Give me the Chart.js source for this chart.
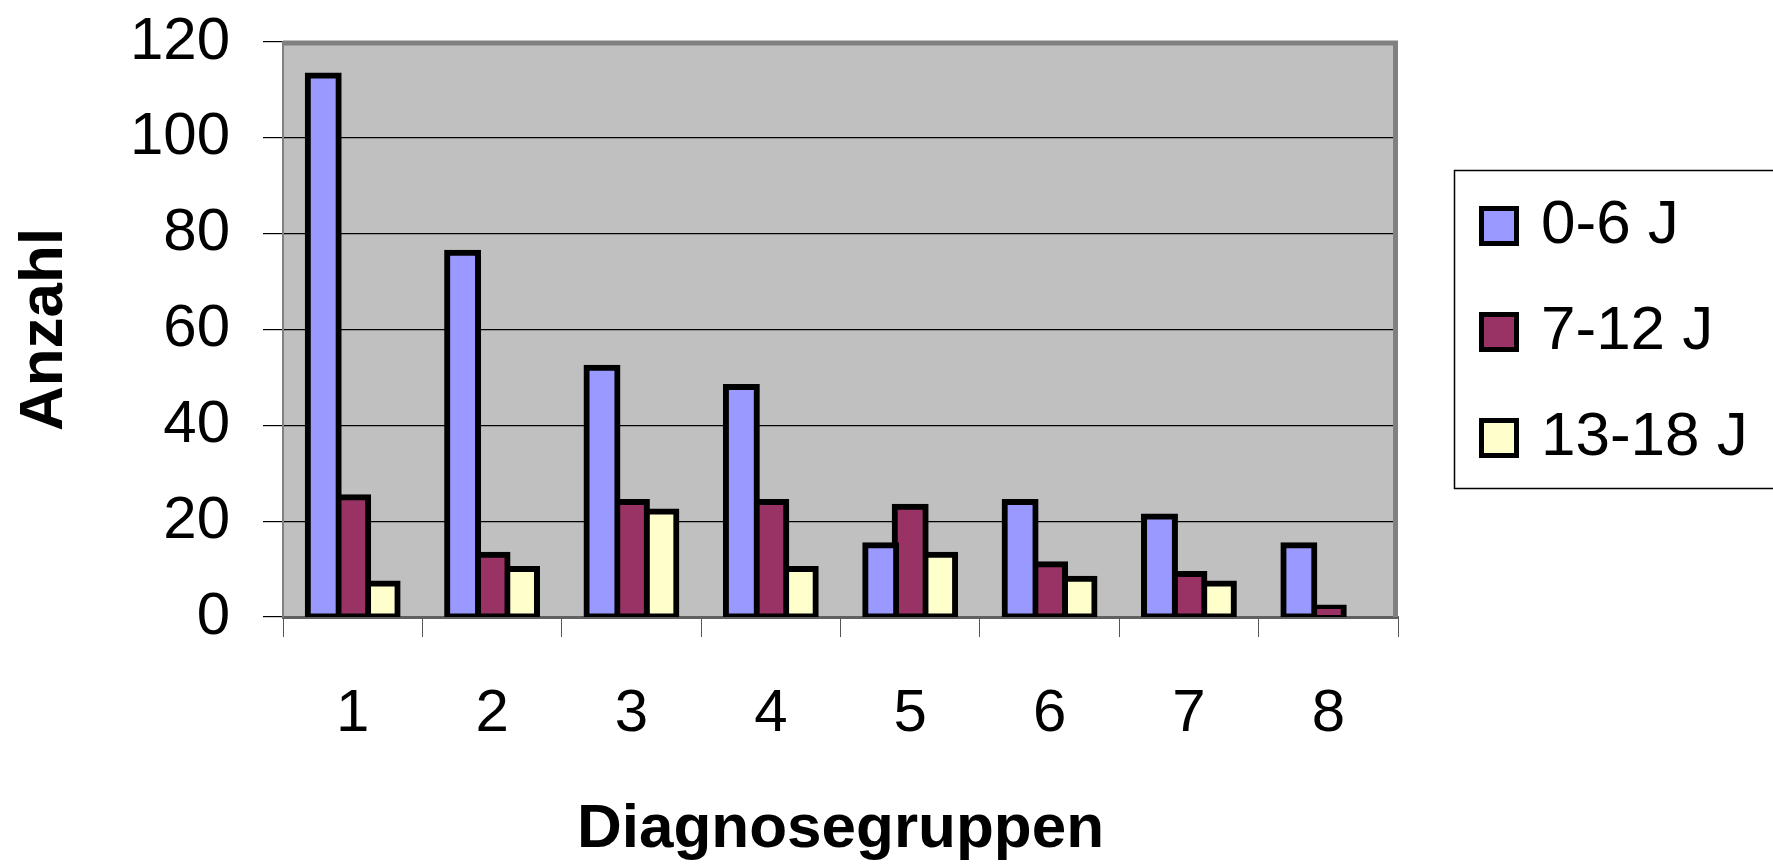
<!DOCTYPE html>
<html>
<head>
<meta charset="utf-8">
<script src="https://cdn.jsdelivr.net/npm/chart.js@4.4.1/dist/chart.umd.min.js"></script>
<style>
    html, body { margin: 0; padding: 0; background: #ffffff; }
    #wrap { width: 1773px; height: 867px; }
</style>
</head>
<body>
<div id="wrap"><canvas id="chart" width="1773" height="867"></canvas></div>
<script>
// Data
const categories = ['1', '2', '3', '4', '5', '6', '7', '8'];
const seriesNames = ['0-6 J', '7-12 J', '13-18 J'];
const age0to6 = [113, 76, 52, 48, 15, 24, 21, 15];
const age7to12 = [25, 13, 24, 24, 23, 11, 9, 2];
const age13to18 = [7, 10, 22, 10, 13, 8, 7, 0];
const yMin = 0;
const yMax = 120;
const yStep = 20;

const seriesColors = ['#9999FF', '#993366', '#FFFFCC'];
const FONT = '"Liberation Sans", Arial, Helvetica, sans-serif';

// Grey plot background + heavy grey frame like the old Excel chart
const plotFrame = {
    id: 'plotFrame',
    beforeDraw(chart) {
        const { ctx, chartArea: a } = chart;
        ctx.save();
        ctx.fillStyle = '#C0C0C0';
        ctx.fillRect(a.left, a.top, a.right - a.left, a.bottom - a.top);
        ctx.restore();
    },
    beforeDatasetsDraw(chart) {
        const { ctx, chartArea: a } = chart;
        ctx.save();
        ctx.strokeStyle = '#808080';
        ctx.lineWidth = 5;
        ctx.beginPath();
        ctx.moveTo(a.left, a.top + 1);
        ctx.lineTo(a.right - 2.5, a.top + 1);
        ctx.lineTo(a.right - 2.5, a.bottom);
        ctx.stroke();
        ctx.restore();
    }
};

// Boxed legend on the right, running off the canvas edge
const boxLegend = {
    id: 'boxLegend',
    afterDraw(chart) {
        const { ctx } = chart;
        const boxX = 1454.5, boxY = 170.5, boxH = 318;
        ctx.save();
        ctx.strokeStyle = '#000000';
        ctx.lineWidth = 1.5;
        ctx.strokeRect(boxX, boxY, 400, boxH);
        chart.data.datasets.forEach((ds, i) => {
            const cy = 226 + i * 106;
            ctx.fillStyle = ds.backgroundColor;
            ctx.fillRect(1479, cy - 20, 40, 40);
            ctx.lineWidth = 5;
            ctx.strokeStyle = '#000000';
            ctx.strokeRect(1481.5, cy - 17.5, 35, 35);
            ctx.fillStyle = '#000000';
            ctx.font = '62px ' + FONT;
            ctx.textAlign = 'left';
            ctx.textBaseline = 'middle';
            ctx.fillText(ds.label, 1541, cy);
        });
        ctx.restore();
    }
};

// border centred on the bar edge, as Excel draws it
const makeSet = (label, data, color) => ({
    label: label,
    data: data,
    backgroundColor: color,
    borderColor: '#000000',
    borderWidth: 6,
    borderSkipped: false,
    inflateAmount: 3,
    categoryPercentage: 0.634,
    barPercentage: 1.05
});

new Chart(document.getElementById('chart'), {
    type: 'bar',
    data: {
        labels: categories,
        datasets: [
            makeSet(seriesNames[0], age0to6, seriesColors[0]),
            makeSet(seriesNames[1], age7to12, seriesColors[1]),
            makeSet(seriesNames[2], age13to18, seriesColors[2])
        ]
    },
    options: {
        responsive: false,
        animation: false,
        devicePixelRatio: 1,
        layout: { padding: { top: 42, right: 375, bottom: 0, left: 0 } },
        plugins: {
            legend: { display: false },
            tooltip: { enabled: false }
        },
        scales: {
            x: {
                afterFit(scale) {
                    scale.height = 250;
                    scale.paddingLeft = 0;
                    scale.paddingRight = 0;
                },
                grid: {
                    display: true,
                    offset: true,
                    drawOnChartArea: false,
                    drawTicks: true,
                    tickLength: 20,
                    color: '#555555',
                    lineWidth: 1
                },
                border: { display: true, color: '#606060', width: 3 },
                ticks: {
                    color: '#000000',
                    padding: 41,
                    maxRotation: 0,
                    font: { family: FONT, size: 60 }
                },
                title: {
                    display: true,
                    text: 'Diagnosegruppen',
                    color: '#000000',
                    padding: { top: 0, bottom: 0 },
                    font: { family: FONT, size: 62, weight: 'bold' }
                }
            },
            y: {
                min: yMin,
                max: yMax,
                afterFit(scale) {
                    scale.width = 283;
                    scale.paddingTop = 0;
                    scale.paddingBottom = 0;
                },
                grid: {
                    color: '#000000',
                    lineWidth: 1.2,
                    drawTicks: true,
                    tickLength: 20,
                    tickColor: '#000000'
                },
                border: { display: true, color: '#808080', width: 2 },
                ticks: {
                    stepSize: yStep,
                    color: '#000000',
                    padding: 33,
                    font: { family: FONT, size: 60 }
                },
                title: {
                    display: true,
                    text: 'Anzahl',
                    color: '#000000',
                    padding: { top: 8, bottom: 0 },
                    font: { family: FONT, size: 62, weight: 'bold' }
                }
            }
        }
    },
    plugins: [plotFrame, boxLegend]
});
</script>
</body>
</html>
